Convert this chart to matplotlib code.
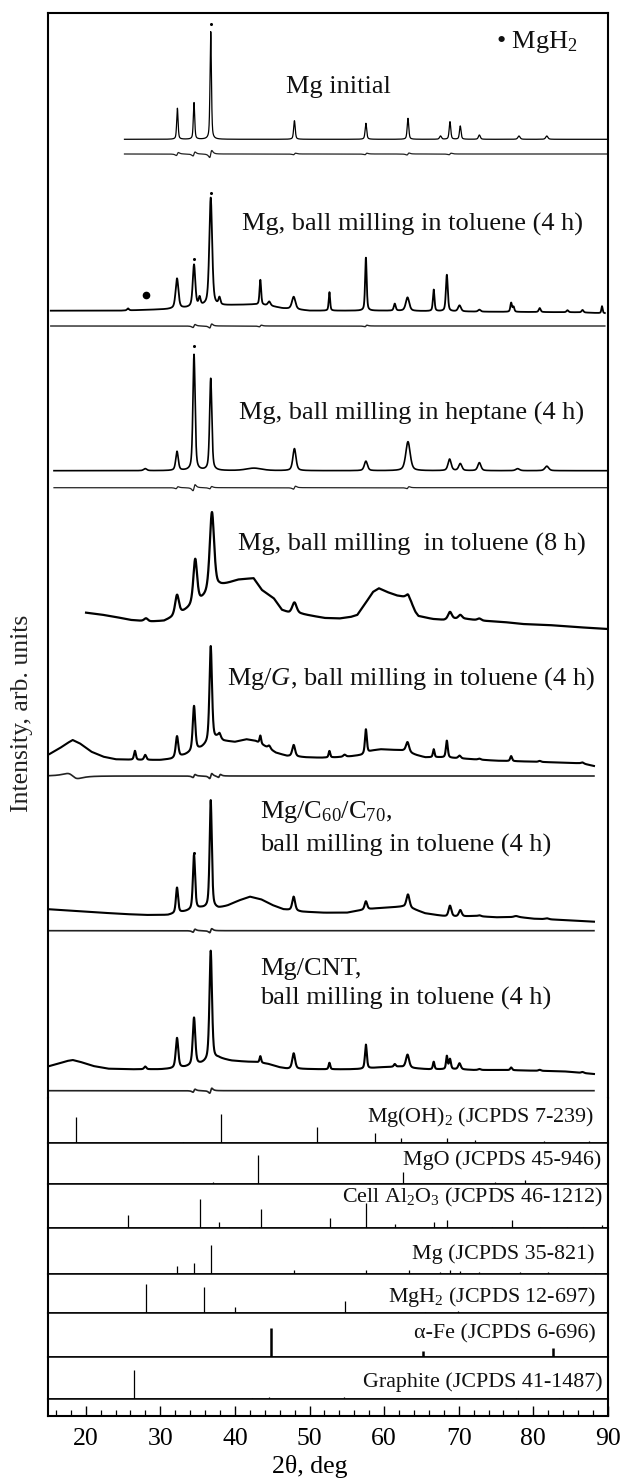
import numpy as np
import matplotlib
matplotlib.use('Agg')
import matplotlib.pyplot as plt

plt.rcParams['font.family'] = ['Liberation Serif', 'DejaVu Serif']
plt.rcParams['mathtext.fontset'] = 'custom'
plt.rcParams['mathtext.rm'] = 'Liberation Serif'
plt.rcParams['mathtext.it'] = 'Liberation Serif:italic'

# ---------------- measured patterns: 2theta (deg) / intensity (arb. units) ----------------
# Mg initial
mg0_range = (25.2, 90.0)
mg0_bg_x = [25.2, 90.0]
mg0_bg_y = [958.7, 958.7]
mg0_pk_pos = [32.29, 34.52, 36.76, 47.98, 57.56, 63.2, 67.56, 68.83, 70.21, 72.77, 78.08, 81.81]
mg0_pk_h = [31, 36.6, 107.6, 18.6, 16, 21, 3.3, 17.6, 13.3, 4.3, 3.3, 3.3]
mg0_pk_w = [0.22, 0.22, 0.22, 0.25, 0.25, 0.25, 0.3, 0.25, 0.25, 0.3, 0.35, 0.35]
mg0_dif_lev = 944
mg0_dif_pos = [32.29, 34.52, 36.76, 47.98, 57.56, 63.2, 68.83]
mg0_dif_amp = [1.5, 2, 3.5, 0.8, 0.8, 1, 0.8]

# Mg, ball milling in toluene (4 h)
t4_range = (15.32, 89.6)
t4_bg_x = [15.32, 24.5, 30.85, 33.5, 36, 38.5, 40, 42.5, 44.5, 46.4, 50, 60, 72.6, 86, 89.6]
t4_bg_y = [787.3, 787.3, 788.7, 790, 792, 792.5, 793, 793.5, 792.5, 789.7, 787.3, 787.3, 786.3, 785.7, 784.7]
t4_pk_pos = [25.67, 32.24, 34.52, 35.27, 36.76, 37.93, 43.41, 44.6, 47.88, 52.67, 57.56, 61.43,
             63.14, 66.65, 68.41, 70.11, 72.77, 77.03, 77.35, 80.86, 84.58, 86.6, 89.21]
t4_pk_h = [2, 30, 42, 8, 108, 7, 25, 4, 12.5, 18.5, 53, 7, 13.5, 21.5, 36.5, 6, 2, 9, 5, 4, 2, 2.5, 7]
t4_pk_w = [0.3, 0.45, 0.4, 0.3, 0.45, 0.3, 0.25, 0.4, 0.55, 0.22, 0.25, 0.3, 0.55, 0.25, 0.3,
           0.45, 0.4, 0.25, 0.25, 0.3, 0.3, 0.3, 0.2]
t4_dif_lev = 772
t4_dif_pos = [34.52, 36.76, 43.41, 57.56]
t4_dif_amp = [1.5, 2, 0.8, 0.8]

# Mg, ball milling in heptane (4 h)
hp_range = (15.75, 90.0)
hp_bg_x = [15.75, 90.0]
hp_bg_y = [627.3, 627.3]
hp_pk_pos = [27.98, 32.24, 34.52, 36.76, 42.55, 47.98, 57.56, 63.2, 68.78, 70.21, 72.77, 77.9, 81.81]
hp_pk_h = [2, 19, 116, 92, 2.5, 22, 9.5, 29, 11.5, 7, 8, 2, 4.5]
hp_pk_w = [0.5, 0.4, 0.35, 0.35, 2.5, 0.5, 0.5, 0.7, 0.5, 0.5, 0.5, 0.6, 0.6]
hp_dif_lev = 610.3
hp_dif_pos = [32.24, 34.52, 36.76, 47.98, 63.2]
hp_dif_amp = [1, 3, 1.2, 1.5, 1]

# Mg, ball milling in toluene (8 h)
t8_range = (20.05, 90.0)
t8_bg_x = [20.05, 22, 24, 26, 28.5, 30.5, 31.5, 33.1, 35.3, 37.9, 40.4, 42.5, 43.6, 45.2, 46.3,
           47.3, 48.9, 52, 54, 55.5, 56.4, 57.5, 58.5, 59.3, 60.4, 61.7, 62.8, 63.6, 64.2, 64.6,
           66.5, 68, 69.5, 71, 73, 76, 78.5, 82, 85.6, 90]
t8_bg_y = [485.3, 483.5, 481, 478, 476.3, 477, 480, 486, 496, 511.3, 518, 519.7, 508, 499.7, 488,
           485, 484, 480, 479.5, 481, 483, 494.7, 506, 509.7, 506, 502.5, 501, 496, 486, 482,
           479, 478, 479, 479, 477.3, 476, 474, 473, 471, 469]
t8_pk_pos = [28.09, 32.24, 34.68, 36.92, 47.98, 63.2, 68.83, 70.21, 72.77]
t8_pk_h = [3, 20, 45, 80, 11, 5, 7.5, 4, 2]
t8_pk_w = [0.6, 0.6, 0.6, 0.7, 0.7, 0.5, 0.6, 0.6, 0.6]

# Mg/G, ball milling in toluene (4 h)
gr_range = (15.16, 88.14)
gr_bg_x = [15.16, 16.5, 17.5, 18.25, 19.2, 20.75, 22.35, 24, 27, 30, 31.5, 33.3, 35.5, 37.6, 38.5,
           40, 41.5, 42.7, 44.3, 45.5, 47, 49.5, 51.5, 53.5, 55.5, 57, 58.4, 59.5, 61.5, 62.6,
           64.3, 65.5, 67.5, 70, 72, 75, 80, 84, 86.5, 88.14]
gr_bg_y = [344, 349.7, 354.7, 358, 354.7, 346.3, 341.3, 338.7, 338, 338, 339, 343, 349.7, 359.7,
           357, 356, 358.7, 357.3, 350.7, 345.3, 342, 340.7, 340.3, 340.7, 341.7, 343, 347.3,
           348.7, 348, 347.3, 343, 340.7, 340.7, 339.7, 338.7, 337.3, 336.3, 335.3, 334.7, 332]
gr_pk_pos = [26.6, 27.98, 32.24, 34.52, 36.76, 37.93, 43.41, 44.6, 47.88, 52.67, 54.7, 57.56,
             63.14, 66.65, 68.41, 70.11, 72.77, 77.03, 80.86, 86.6]
gr_pk_h = [9, 5, 21, 45, 96, 5, 8, 3, 11.5, 6.5, 2, 24, 10, 8, 17, 2.7, 1, 5, 1, 1]
gr_pk_w = [0.3, 0.35, 0.4, 0.4, 0.4, 0.4, 0.25, 0.4, 0.45, 0.25, 0.4, 0.3, 0.5, 0.25, 0.3,
           0.4, 0.4, 0.3, 0.4, 0.4]
gr_dif_lev = 322
gr_dif_pos = [18.25, 34.52, 36.76, 37.93]
gr_dif_amp = [-2.5, 1.5, 2.5, 1.5]
gr_dif_w = [1.2, 0.25, 0.25, 0.25]

# Mg/C60/C70, ball milling in toluene (4 h)
fl_range = (15.16, 88.14)
fl_bg_x = [15.16, 20, 25, 28, 31, 33.3, 35.5, 37.8, 39, 40.5, 42, 43.5, 45, 46.5, 49, 52, 55,
           56.5, 57.8, 59, 61, 62.5, 64, 65.5, 67, 68.5, 70, 72, 75, 78, 80, 84, 88.14]
fl_bg_y = [188.7, 186.3, 184, 183, 183, 186.3, 189.7, 189.7, 192.3, 197.3, 201.3, 198.7, 193,
           188.7, 186.3, 185.3, 185.3, 187.3, 188.7, 189.7, 190.7, 191.3, 188.7, 184.7, 183,
           181.3, 181.3, 182, 180.7, 181, 179.3, 178, 176.3]
fl_pk_pos = [32.24, 34.52, 36.76, 47.88, 57.56, 63.2, 68.83, 70.21, 72.77, 77.67, 81.81]
fl_pk_h = [25.5, 55, 108, 14, 8.3, 13.5, 11, 6.5, 1, 1, 1]
fl_pk_w = [0.35, 0.35, 0.35, 0.45, 0.4, 0.5, 0.45, 0.45, 0.5, 0.6, 0.6]
fl_dif_lev = 167.3
fl_dif_pos = [34.52, 36.76]
fl_dif_amp = [1.5, 2]

# Mg/CNT, ball milling in toluene (4 h)
cn_range = (15.16, 88.14)
cn_bg_x = [15.16, 16.5, 17.5, 18.25, 19.2, 21, 23, 26, 30, 31.5, 33.3, 35.5, 37.8, 39.5, 41.5,
           42.8, 44.5, 46, 47, 49.5, 52, 55, 57, 59.5, 62, 64, 66, 68, 70, 72, 76, 80, 84, 88.14]
cn_bg_y = [32, 34.7, 37, 38, 36.3, 32, 29.3, 28.7, 28.7, 29.3, 30.7, 34, 39.7, 37.3, 36.3, 36,
           34, 30.7, 29.3, 29, 28.7, 28.7, 29, 30.7, 31.3, 29.7, 28.7, 28.7, 28.7, 28, 28, 27.3,
           26.7, 24]
cn_pk_pos = [27.98, 32.24, 34.52, 36.76, 43.41, 47.88, 52.67, 57.56, 61.43, 63.14, 66.65, 68.41,
             68.83, 70.11, 72.77, 77.03, 80.86, 86.6]
cn_pk_h = [2.7, 30, 47.5, 110, 6.5, 15.5, 6.5, 24, 2.7, 13, 7.5, 13, 10, 6, 1, 2.7, 1, 1]
cn_pk_w = [0.35, 0.4, 0.4, 0.4, 0.25, 0.45, 0.25, 0.3, 0.3, 0.5, 0.25, 0.25, 0.3, 0.4, 0.4,
           0.3, 0.4, 0.4]
cn_dif_lev = 7.3
cn_dif_pos = [34.52, 36.76]
cn_dif_amp = [1.5, 2.5]

# MgH2 marker and small dots above strongest reflections
mgh2_mark = (28.1, 802.7)
dot_x = [36.76, 34.52, 36.76, 34.52, 34.52]
dot_y = [1074, 838.7, 904.7, 752, 245.3]

# pattern labels
pat_labels = ['Mg initial', '\u2022 MgH$_2$', 'Mg, ball milling in toluene (4 h)',
              'Mg, ball milling in heptane (4 h)', 'Mg, ball milling  in toluene (8 h)',
              'Mg/$G$, ball milling in toluene (4 h)', 'Mg/C$_{60}$/C$_{70}$,',
              'ball milling in toluene (4 h)', 'Mg/CNT,', 'ball milling in toluene (4 h)']
pat_lab_x = [46.8, 75.0, 86.6, 86.8, 86.97, 88.3, 43.35, 43.35, 43.35, 43.35]
pat_lab_y = [1004.7, 1050.3, 867, 678.7, 547.3, 413, 279.7, 246.3, 123, 93]
pat_lab_ha = ['left', 'left', 'right', 'right', 'right', 'right', 'left', 'left', 'left', 'left']

# ---------------- reference cards: 2theta / relative intensity ----------------
ref_names = ['Mg(OH)$_2$ (JCPDS 7-239)', 'MgO (JCPDS 45-946)', 'Cell Al$_2$O$_3$ (JCPDS 46-1212)',
             'Mg (JCPDS 35-821)', 'MgH$_2$ (JCPDS 12-697)', '\u03b1-Fe (JCPDS 6-696)',
             'Graphite (JCPDS 41-1487)']
mgoh2_pos = [18.67, 32.98, 38.14, 51.07, 58.83, 62.24, 68.46, 72.24, 81.49, 87.4]
mgoh2_int = [92, 6, 100, 57, 36, 20, 17, 12, 9, 7]
mgo_pos = [37.08, 43.09, 62.5, 74.89, 78.89]
mgo_int = [7, 100, 41, 7, 13]
al2o3_pos = [25.67, 35.27, 37.93, 41.92, 43.51, 52.72, 57.61, 61.43, 66.65, 68.46, 74.48, 77.13,
             80.86, 84.58, 86.7, 89.26]
al2o3_int = [45, 100, 21, 4, 66, 34, 86, 14, 23, 28, 4, 29, 5, 5, 5, 10]
mg_pos = [32.29, 34.52, 36.76, 47.98, 57.56, 63.3, 67.56, 68.83, 70.21, 72.77, 78.19, 81.92, 88.3]
mg_int = [25, 36, 100, 13, 11, 13, 5, 11, 7, 4, 4, 4, 3]
mgh2_pos = [28.09, 35.86, 40.06, 54.79, 57.98, 65.43, 69.95, 83.78, 89.48]
mgh2_int = [100, 91, 20, 41, 4, 5, 7, 4, 4]
fe_pos = [44.84, 65.27, 82.61]
fe_int = [100, 21, 30]
graph_pos = [26.49, 42.34, 44.57, 54.68, 77.7, 83.5]
graph_int = [100, 3, 7, 7, 3, 3]
ref_lab_x = [88.2, 89.17, 89.3, 88.2, 88.37, 88.37, 89.25]
ref_lab_y = [0.46, 0.455, 0.59, 0.33, 0.28, 0.42, 0.286]


def profile(x, bx, by, pos, h, w):
    y = np.interp(x, bx, by)
    for p, a, f in zip(pos, h, w):
        u = (x - p) / (f / 2)
        y = y + a * (0.5 / (1 + u ** 2) + 0.5 * np.exp(-np.log(2) * u ** 2))
    return y


def wiggle(x, lev, pos, amp, w=None):
    if w is None:
        w = [0.25] * len(pos)
    y = np.full_like(x, lev)
    for p, a, s in zip(pos, amp, w):
        u = (x - p) / s
        y = y + a * u / (1 + u ** 2) ** 2 / 0.3248
    return y


W, H = 623, 1479
fig = plt.figure(figsize=(W / 100, H / 100), dpi=100)
XL, XR = 48.4, 607.9


def add_ax(top, bot):
    a = fig.add_axes([XL / W, 1 - bot / H, (XR - XL) / W, (bot - top) / H])
    a.set_xlim(15, 90)
    a.set_xticks([])
    a.set_yticks([])
    for s in a.spines.values():
        s.set_linewidth(1.1)
    a.spines['left'].set_linewidth(1.5)
    a.spines['right'].set_linewidth(1.5)
    return a


# ---- patterns ----
ax = add_ax(13.3, 1098)
ax.set_ylim(0, 1084.7)
ax.spines['bottom'].set_visible(False)
ax.spines['top'].set_linewidth(1.5)

patterns = [
    (mg0_range, mg0_bg_x, mg0_bg_y, mg0_pk_pos, mg0_pk_h, mg0_pk_w, 0.9),
    (t4_range, t4_bg_x, t4_bg_y, t4_pk_pos, t4_pk_h, t4_pk_w, 1.3),
    (hp_range, hp_bg_x, hp_bg_y, hp_pk_pos, hp_pk_h, hp_pk_w, 1.2),
    (t8_range, t8_bg_x, t8_bg_y, t8_pk_pos, t8_pk_h, t8_pk_w, 1.6),
    (gr_range, gr_bg_x, gr_bg_y, gr_pk_pos, gr_pk_h, gr_pk_w, 1.5),
    (fl_range, fl_bg_x, fl_bg_y, fl_pk_pos, fl_pk_h, fl_pk_w, 1.5),
    (cn_range, cn_bg_x, cn_bg_y, cn_pk_pos, cn_pk_h, cn_pk_w, 1.5),
]
for rng, bx, by, pos, h, w, lw in patterns:
    x = np.arange(rng[0], rng[1], 0.01)
    ax.plot(x, profile(x, bx, by, pos, h, w), color='k', lw=lw)

diffs = [
    (mg0_range, mg0_dif_lev, mg0_dif_pos, mg0_dif_amp, None, 0.9),
    (t4_range, t4_dif_lev, t4_dif_pos, t4_dif_amp, None, 1.0),
    (hp_range, hp_dif_lev, hp_dif_pos, hp_dif_amp, None, 0.9),
    (gr_range, gr_dif_lev, gr_dif_pos, gr_dif_amp, gr_dif_w, 1.2),
    (fl_range, fl_dif_lev, fl_dif_pos, fl_dif_amp, None, 1.2),
    (cn_range, cn_dif_lev, cn_dif_pos, cn_dif_amp, None, 1.2),
]
for rng, lev, pos, amp, w, lw in diffs:
    x = np.arange(rng[0], rng[1], 0.01)
    ax.plot(x, wiggle(x, lev, pos, amp, w), color='#222222', lw=lw)

ax.plot([mgh2_mark[0]], [mgh2_mark[1]], 'o', color='k', ms=4.5)
ax.plot(dot_x, dot_y, 'o', color='k', ms=1.2)

for t, xx, yy, ha in zip(pat_labels, pat_lab_x, pat_lab_y, pat_lab_ha):
    ax.text(xx, yy, t, ha=ha, va='baseline', fontsize=19, color='#111111')

# ---- reference cards ----
edges = [1098, 1143.3, 1183.7, 1228.3, 1273.5, 1313, 1357, 1399]
cards = [(mgoh2_pos, mgoh2_int), (mgo_pos, mgo_int), (al2o3_pos, al2o3_int), (mg_pos, mg_int),
         (mgh2_pos, mgh2_int), (fe_pos, fe_int), (graph_pos, graph_int)]
for i, (pos, inten) in enumerate(cards):
    top, bot = edges[i], edges[i + 1]
    a = add_ax(top, bot)
    a.set_ylim(0, (bot - top) / 29 * 100)
    if i == 0:
        a.spines['top'].set_visible(False)
    lw = 1.8 if i == 5 else 0.9
    a.vlines(pos, 0, inten, color='k', lw=lw)
    a.text(ref_lab_x[i], ref_lab_y[i], ref_names[i], transform=a.get_xaxis_transform(),
           ha='right', va='baseline', fontsize=15.8, color='#111111')

# ---- tick strip ----
at = add_ax(1399, 1415.7)
at.spines['bottom'].set_linewidth(1.5)
at.set_xticks(np.arange(20, 91, 10))
at.set_xticks(np.arange(16, 90, 2), minor=True)
at.tick_params(axis='x', which='major', direction='in', length=7.2, width=1.0,
               labelsize=18.5, pad=9)
at.tick_params(axis='x', which='minor', direction='in', length=4.0, width=0.9)

fig.text(309.5 / W, 1 - 1466 / H, '2\u03b8, deg', ha='center', va='center', fontsize=18.5)
fig.text(22 / W, 1 - 713 / H, 'Intensity, arb. units', rotation=90, ha='center', va='center',
         fontsize=18.5, color='#222222')

fig.savefig('out.png', dpi=100)
